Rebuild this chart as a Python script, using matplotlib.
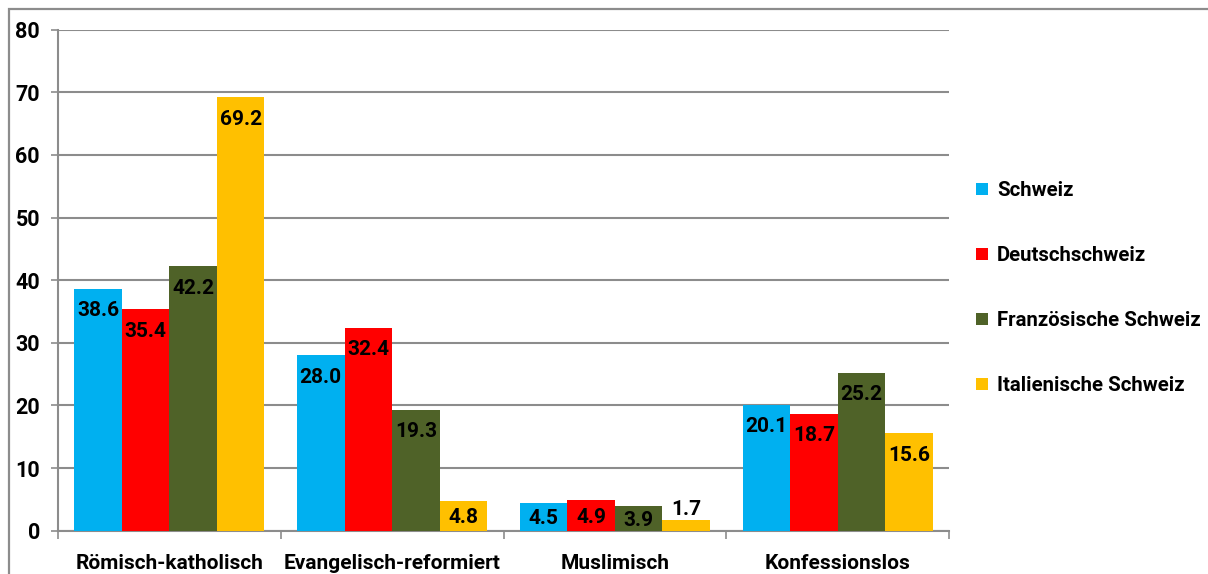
import numpy as np
import matplotlib.pyplot as plt
from matplotlib.patches import Rectangle

plt.rcParams['font.family'] = ['Roboto', 'DejaVu Sans']
plt.rcParams['font.weight'] = 'bold'

# Religionszugehoerigkeit nach Sprachregion (in %)
kategorien = ['Römisch-katholisch', 'Evangelisch-reformiert', 'Muslimisch', 'Konfessionslos']
schweiz = [38.6, 28.0, 4.5, 20.1]
deutschschweiz = [35.4, 32.4, 4.9, 18.7]
franz_schweiz = [42.2, 19.3, 3.9, 25.2]
ital_schweiz = [69.2, 4.8, 1.7, 15.6]

reihen = [schweiz, deutschschweiz, franz_schweiz, ital_schweiz]
namen = ['Schweiz', 'Deutschschweiz', 'Französische Schweiz', 'Italienische Schweiz']
farben = ['#00B0F0', '#FF0000', '#4F6228', '#FFC000']

fig = plt.figure(figsize=(12.08, 5.74), dpi=100)
ax = fig.add_axes([58 / 1208, 1 - 530.7 / 574, (949 - 58) / 1208, (530.7 - 29.7) / 574])

# Rahmen um das ganze Diagramm
fig.patches.append(Rectangle((9 / 1208, -0.1), 1.2, 1 - 9 / 574 + 0.1, transform=fig.transFigure,
                             fill=False, edgecolor='#8c8c8c', linewidth=1.6, zorder=0))

x = np.arange(len(kategorien))
w = 0.2135
px_per_unit = (530.7 - 29.7) / 80

for i, (werte, name, farbe) in enumerate(zip(reihen, namen, farben)):
    pos = x + (i - 1.5) * w
    ax.bar(pos, werte, width=w, color=farbe, label=name, zorder=3)
    for xp, v in zip(pos, werte):
        h = v * px_per_unit
        if h < 20:
            off = -11
        elif h > 44:
            off = 22
        else:
            off = min(18, h / 2 + 2)
        ax.annotate(f'{v:.1f}', (xp, v), xytext=(0, -off), textcoords='offset pixels',
                    ha='center', va='center', fontsize=15, fontweight='bold', zorder=4)

ax.set_xlim(-0.5, 3.5)
ax.set_ylim(0, 80)
ax.set_yticks(range(0, 81, 10))
ax.yaxis.grid(True, color='#8c8c8c', linewidth=1.5, zorder=0)
ax.tick_params(axis='y', length=5, width=1.2, color='#8c8c8c', labelsize=15.5, pad=8)
for t in ax.get_yticklabels():
    t.set_fontweight('bold')

ax.set_xticks(x)
ax.set_xticklabels(kategorien, fontsize=15, fontweight='bold')
ax.set_xticks(np.arange(-0.5, 4, 1), minor=True)
ax.tick_params(axis='x', which='major', length=0, pad=17)
ax.tick_params(axis='x', which='minor', length=6, width=1.2, color='#8c8c8c')

for s in ['top', 'right']:
    ax.spines[s].set_visible(False)
for s in ['left', 'bottom']:
    ax.spines[s].set_color('#8c8c8c')
    ax.spines[s].set_linewidth(1.5)

fig.legend(loc='upper left', bbox_to_anchor=(958 / 1208, 1 - 163 / 574), frameon=False,
           handlelength=0.55, handleheight=0.55, handletextpad=0.45,
           labelspacing=2.25, prop={'weight': 'bold', 'size': 14.7})

fig.savefig('out.png', dpi=100)
